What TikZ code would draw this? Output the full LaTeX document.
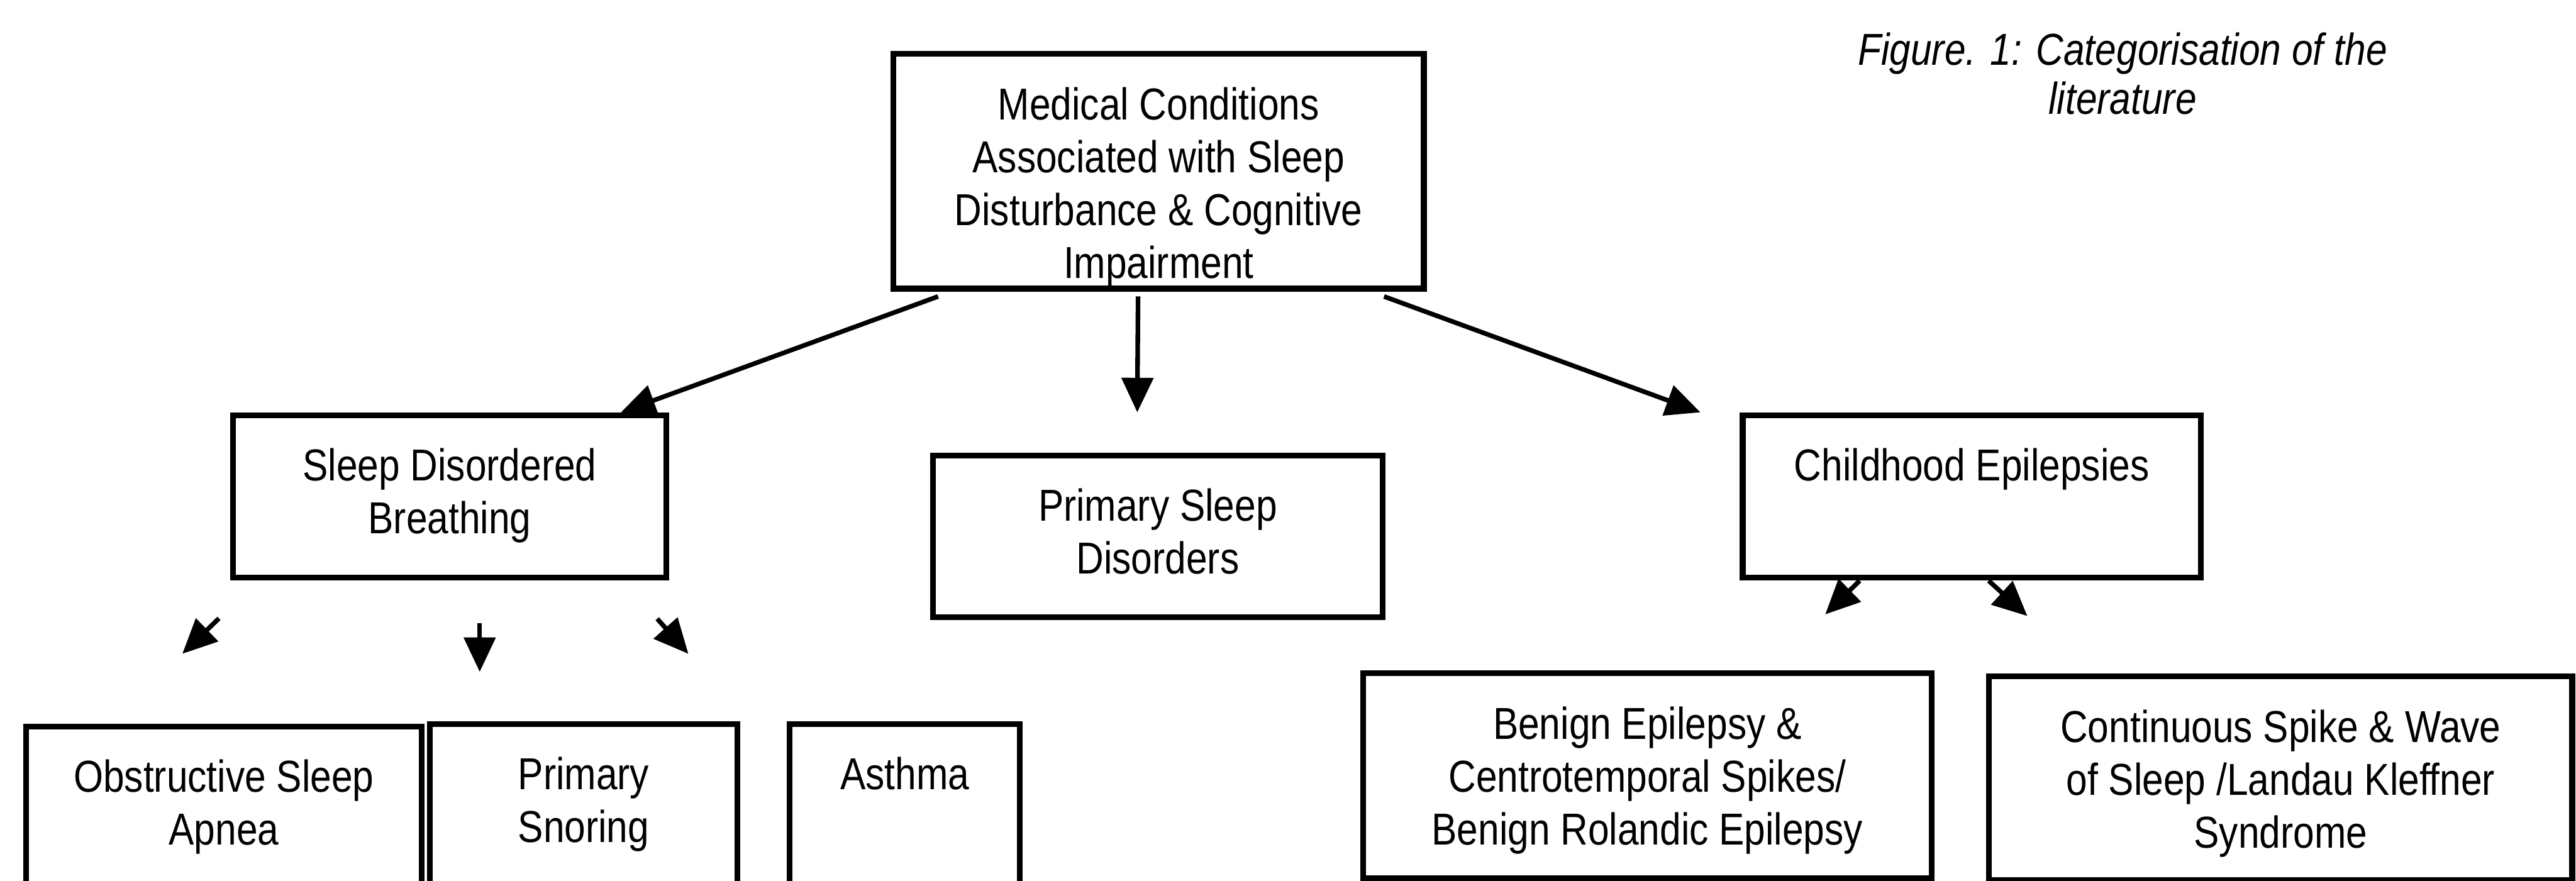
\documentclass[tikz,border=0pt]{standalone}
\usepackage{fontspec}
\setmainfont{Liberation Sans}[FakeStretch=0.85]
\usetikzlibrary{arrows.meta}

\begin{document}
\begin{tikzpicture}[
x=0.02cm,y=-0.02cm,
catbox/.style={draw,line width=2pt,anchor=north west,align=center,inner sep=0pt,font=\fontsize{15.5}{18.3}\selectfont},
arr/.style={-{Triangle[length=0.42cm,width=0.38cm]},line width=1.6pt}]
\useasboundingbox (0,0) rectangle (1568,536);
\clip (0,0) rectangle (1568,536);
\node (main) [catbox,minimum width=6.46cm,text height=2.73cm,text depth=0.13cm] at (542,31) {Medical Conditions\\Associated with Sleep\\Disturbance \& Cognitive\\Impairment};
\node (cap) [align=center,inner sep=0pt,font=\fontsize{15.5}{17}\selectfont\itshape] at (1292,45) {Figure. 1: Categorisation of the\\literature};
\node (sdb) [catbox,minimum width=5.28cm,text height=1.44cm,text depth=0.54cm] at (140,251) {Sleep Disordered\\Breathing};
\node (psd) [catbox,minimum width=5.48cm,text height=1.44cm,text depth=0.53cm] at (566,275.5) {Primary Sleep\\Disorders};
\node (ce) [catbox,minimum width=5.58cm,text height=0.8cm,text depth=1.18cm] at (1059,251) {Childhood Epilepsies};
\node (osa) [catbox,minimum width=4.82cm,text height=1.44cm,text depth=1cm] at (14,440.5) {Obstructive Sleep\\Apnea};
\node (ps) [catbox,minimum width=3.74cm,text height=1.44cm,text depth=1cm] at (260,439) {Primary\\Snoring};
\node (asthma) [catbox,minimum width=2.8cm,text height=0.8cm,text depth=1.6cm] at (479,439) {Asthma};
\node (bects) [catbox,minimum width=6.92cm,text height=2.09cm,text depth=0.41cm] at (828,408) {Benign Epilepsy \&\\Centrotemporal Spikes/\\Benign Rolandic Epilepsy};
\node (csws) [catbox,minimum width=7.1cm,text height=2.09cm,text depth=0.39cm] at (1209,410) {Continuous Spike \& Wave\\of Sleep /Landau Kleffner\\Syndrome};
\coordinate (sdbL) at (111,398);
\coordinate (sdbM) at (292,409);
\coordinate (sdbR) at (419,398);
\coordinate (ceL) at (1111,374);
\coordinate (ceR) at (1234,375);
\draw[arr] ([xshift=0.58cm,yshift=-0.06cm]main.south west)--([xshift=-0.59cm]sdb.north east);
\draw[arr] ([xshift=-0.25cm,yshift=-0.06cm]main.south)--([xshift=-0.25cm,yshift=0.49cm]psd.north);
\draw[arr] ([xshift=-0.52cm,yshift=-0.06cm]main.south east)--([xshift=-0.48cm]ce.north west);
\draw[arr,shorten <=0.66cm] ([xshift=0.34cm]sdb.south west)--(sdbL);
\draw[arr,shorten <=0.52cm] (sdb.south -| sdbM)--(sdbM);
\draw[arr,shorten <=0.62cm] ([xshift=-0.56cm]sdb.south east)--(sdbR);
\draw[arr] ([xshift=1.46cm]ce.south west)--(ceL);
\draw[arr] ([xshift=3.03cm]ce.south west)--(ceR);
\end{tikzpicture}
\end{document}
